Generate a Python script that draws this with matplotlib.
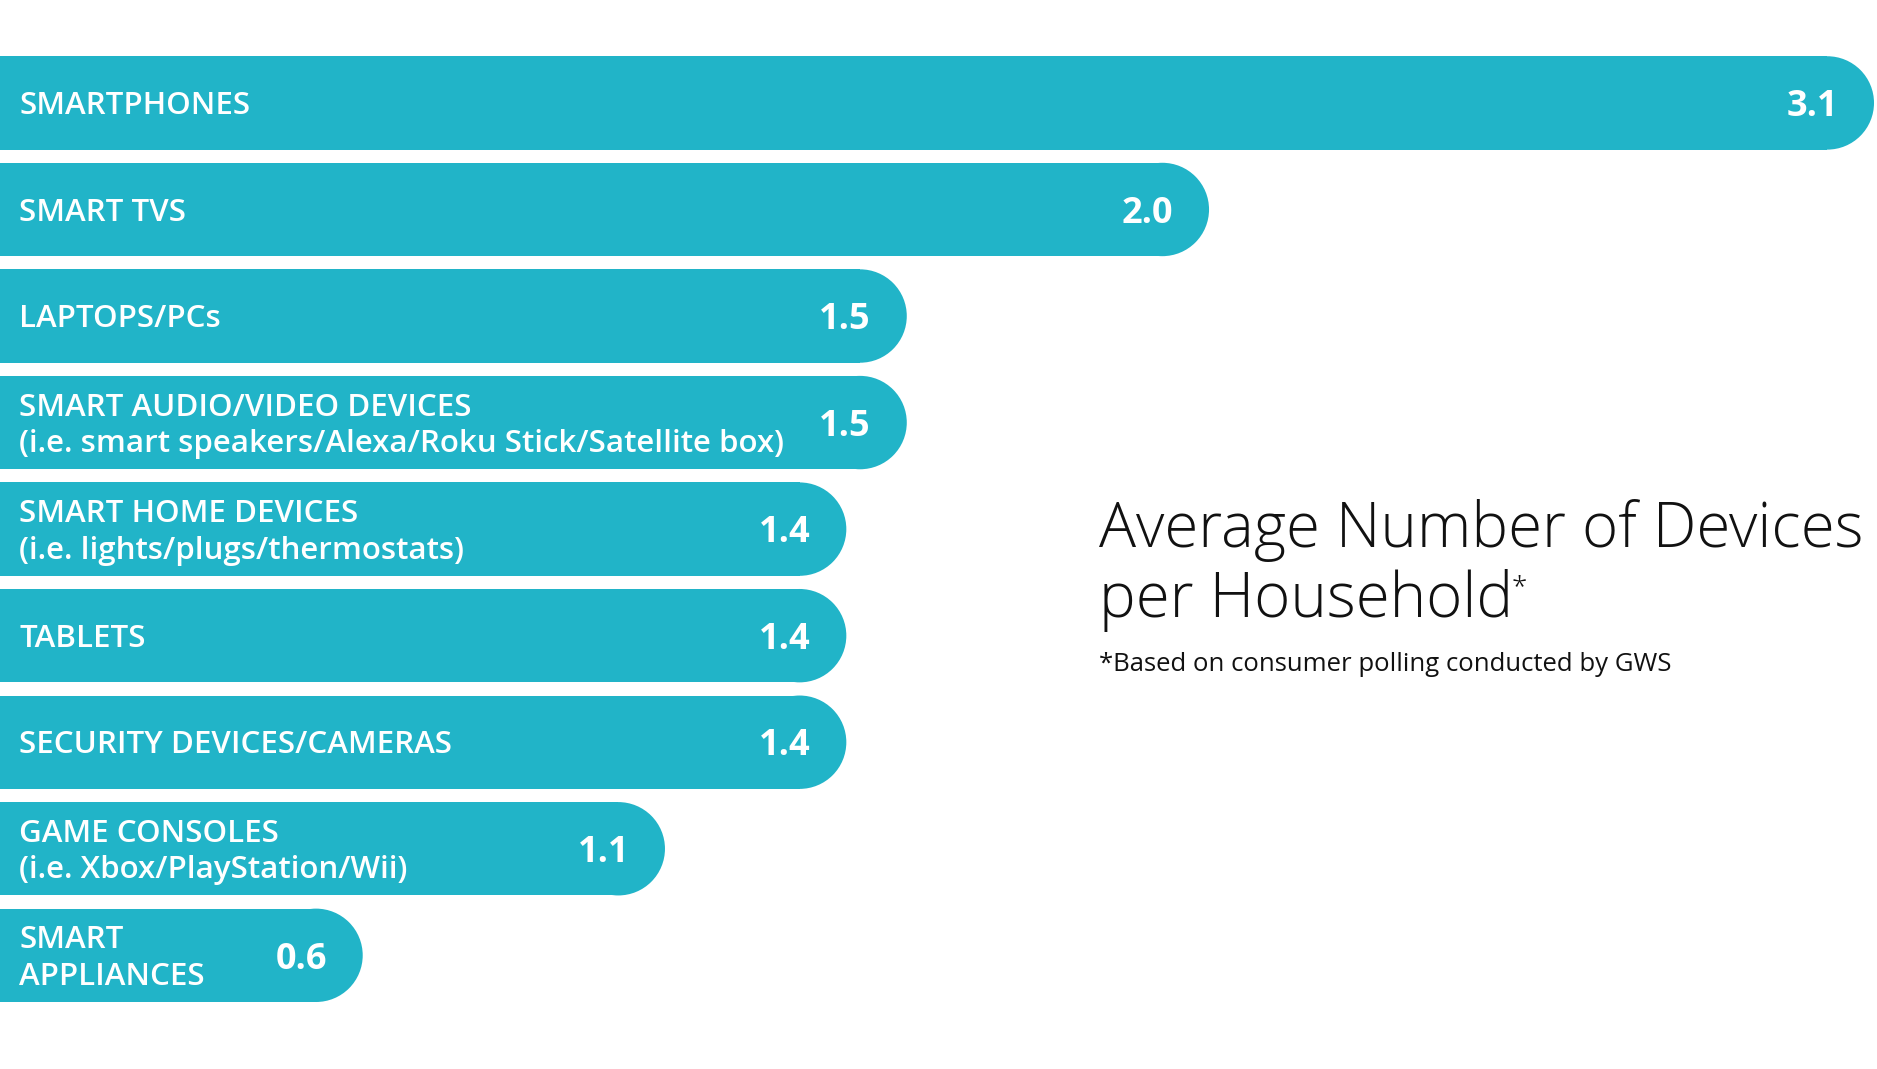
import matplotlib
matplotlib.use("Agg")
import matplotlib.pyplot as plt
from matplotlib.patches import Ellipse

# data
categories = [
    "SMARTPHONES",
    "SMART TVS",
    "LAPTOPS/PCs",
    "SMART AUDIO/VIDEO DEVICES\n(i.e. smart speakers/Alexa/Roku Stick/Satellite box)",
    "SMART HOME DEVICES\n(i.e. lights/plugs/thermostats)",
    "TABLETS",
    "SECURITY DEVICES/CAMERAS",
    "GAME CONSOLES\n(i.e. Xbox/PlayStation/Wii)",
    "SMART\nAPPLIANCES",
]
values = [3.1, 2.0, 1.5, 1.5, 1.4, 1.4, 1.4, 1.1, 0.6]

title_lines = ["Average Number of Devices", "per Household"]
footnote = "*Based on consumer polling conducted by GWS"

teal = "#21b4c8"
font = "Open Sans"

fig = plt.figure(figsize=(18.77, 10.69), dpi=100)
ax = fig.add_axes([0, 0, 1, 1])
ax.set_xlim(0, 1568 / 505)
ax.set_ylim(9.067, -0.966)
ax.axis("off")

bar_h = 78 / 89
cap = 39 / 505  # half bar height, in x units

for i, (name, v) in enumerate(zip(categories, values)):
    ax.barh(i, v - cap, height=bar_h, left=0, color=teal, linewidth=0)
    ax.add_patch(Ellipse((v - cap, i), 2 * cap, bar_h, color=teal, linewidth=0))
    ax.text(16 / 505, i + 0.03, name, color="white", fontsize=22.5, fontweight="semibold",
            family=font, ha="left", va="center", linespacing=1.28)
    ax.text(v - 30 / 505, i + 0.04, f"{v:.1f}", color="white", fontsize=26,
            fontweight="bold", family=font, ha="right", va="center")

# title block on the right
t1 = fig.text(0.5855, 0.488, title_lines[0], fontsize=44.5, fontweight="light",
              family=font, color="#111111", ha="left", va="baseline")
t2 = fig.text(0.5855, 0.423, title_lines[1], fontsize=44.5, fontweight="light",
              family=font, color="#111111", ha="left", va="baseline")
ax.annotate("*", xy=(1, 0.92), xycoords=t2, xytext=(-1, 0), textcoords="offset points",
            fontsize=20, fontweight="light", family=font, color="#111111",
            ha="left", va="top")
fig.text(0.5855, 0.378, footnote, fontsize=18.5, family=font, color="#111111",
         ha="left", va="center")

fig.savefig("out.png", dpi=100)
